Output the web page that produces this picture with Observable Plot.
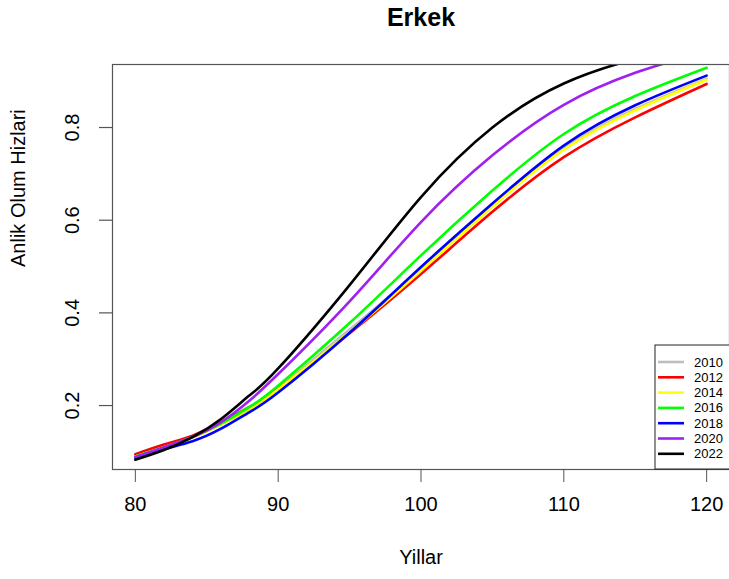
<!DOCTYPE html>
<html>
<head>
<meta charset="utf-8">
<script src="https://cdn.jsdelivr.net/npm/d3@7"></script>
<script src="https://cdn.jsdelivr.net/npm/@observablehq/plot@0.6"></script>
<style>
  body { margin: 0; background: #fff; }
  #chart { width: 729px; height: 579px; }
</style>
</head>
<body>
<div id="chart"></div>
<script>
// Ages (x) and instantaneous mortality rates for men, one array per year
const ages = [80, 82, 84, 86, 88, 90, 95, 100, 105, 110, 115, 120];
const h2010 = [0.093, 0.113, 0.134, 0.165, 0.198, 0.238, 0.364, 0.495, 0.632, 0.754, 0.840, 0.905];
const h2012 = [0.095, 0.116, 0.135, 0.164, 0.196, 0.236, 0.356, 0.484, 0.618, 0.736, 0.822, 0.894];
const h2014 = [0.090, 0.110, 0.131, 0.159, 0.192, 0.235, 0.358, 0.491, 0.629, 0.752, 0.837, 0.903];
const h2016 = [0.090, 0.110, 0.132, 0.161, 0.197, 0.243, 0.378, 0.524, 0.664, 0.786, 0.868, 0.929];
const h2018 = [0.087, 0.106, 0.123, 0.150, 0.186, 0.228, 0.357, 0.499, 0.636, 0.761, 0.848, 0.912];
const h2020 = [0.089, 0.110, 0.132, 0.164, 0.211, 0.268, 0.425, 0.596, 0.740, 0.849, 0.918, 0.965];
const h2022 = [0.083, 0.104, 0.132, 0.171, 0.222, 0.280, 0.460, 0.650, 0.800, 0.895, 0.948, 0.985];

const years = ["2010", "2012", "2014", "2016", "2018", "2020", "2022"];
const colors = ["#BEBEBE", "#FF0000", "#FFFF00", "#00FF00", "#0000FF", "#A020F0", "#000000"];
const xTicks = [80, 90, 100, 110, 120];
const yTicks = [0.2, 0.4, 0.6, 0.8];

const series = [h2010, h2012, h2014, h2016, h2018, h2020, h2022];
const rows = years.flatMap((yr, k) => ages.map((a, i) => ({year: yr, age: a, rate: series[k][i]})));

const W = 729, H = 579;
const M = {left: 112, top: 64, right: 0, bottom: 110};
const FONT = "'Liberation Sans', Arial, sans-serif";

const plot = Plot.plot({
  width: W,
  height: H,
  marginLeft: M.left,
  marginTop: M.top,
  marginRight: M.right,
  marginBottom: M.bottom,
  style: {fontFamily: FONT, background: "white", color: "#000"},
  x: {domain: [78.4, 121.6]},
  y: {domain: [0.062, 0.936]},
  color: {domain: years, range: colors},
  marks: [
    // one line per year, drawn in order so later years sit on top
    ...years.map(yr => Plot.line(rows.filter(d => d.year === yr), {
      x: "age", y: "rate", stroke: "year", strokeWidth: 2.6, curve: "natural", clip: true
    })),
    Plot.frame({stroke: "#555", strokeWidth: 1.2}),
    Plot.axisX({ticks: xTicks, tickSize: 13, tickPadding: 14, fontSize: 20, label: null, stroke: "#555"}),
    Plot.axisY({ticks: yTicks, tickSize: 13, tickFormat: () => "", label: null, stroke: "#555", strokeWidth: 1.2}),
    Plot.text(yTicks, {y: d => d, text: d => d.toFixed(1), frameAnchor: "left", dx: -40,
                       rotate: -90, fontSize: 20, lineAnchor: "middle", textAnchor: "middle"}),
    Plot.text(["Erkek"], {frameAnchor: "top", dy: -47, fontSize: 25, fontWeight: "bold", lineAnchor: "middle"}),
    Plot.text(["Yillar"], {frameAnchor: "bottom", dy: 88, fontSize: 20, lineAnchor: "middle"}),
    Plot.text(["Anlik Olum Hizlari"], {frameAnchor: "left", dx: -94, rotate: -90, fontSize: 20, lineAnchor: "middle"})
  ]
});

// Legend box in the lower-right corner of the panel
const color = plot.scale("color");
const svg = d3.select(plot);
const right = W - M.right, bottom = H - M.bottom;
const boxW = 74, rowH = 15.3, boxH = 124;
const lg = svg.append("g").attr("font-family", FONT).attr("text-anchor", "start");
lg.append("rect")
  .attr("x", right - boxW).attr("y", bottom - boxH)
  .attr("width", boxW + 2).attr("height", boxH)
  .attr("fill", "white").attr("stroke", "#222").attr("stroke-width", 1);
years.forEach((yr, i) => {
  const y = bottom - boxH + 17 + i * rowH;
  lg.append("line")
    .attr("x1", right - boxW + 3).attr("x2", right - boxW + 29)
    .attr("y1", y).attr("y2", y)
    .attr("stroke", color.apply(yr)).attr("stroke-width", 2.6);
  lg.append("text")
    .attr("x", right - boxW + 39).attr("y", y)
    .attr("dy", "0.35em").attr("font-size", 13).attr("fill", "#000")
    .text(yr);
});

document.getElementById("chart").append(plot);
</script>
</body>
</html>
